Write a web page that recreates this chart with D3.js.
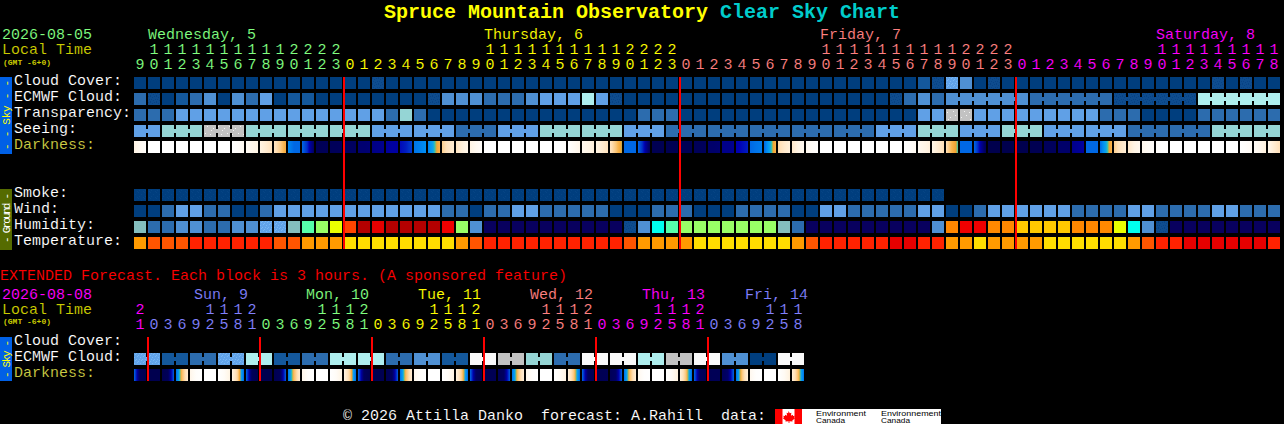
<!DOCTYPE html>
<html><head><meta charset="utf-8">
<script src="https://cdn.jsdelivr.net/npm/d3@7/dist/d3.min.js"></script>
<style>
html,body{margin:0;padding:0;background:#000;overflow:hidden}
svg{display:block}
text{font-family:"Liberation Mono",monospace;white-space:pre}
.thin{stroke:#000;stroke-width:.1px}
</style></head><body>
<svg id="c" width="1284" height="424"></svg>
<script>
// ---------- DATA ----------
const skyColors=["#003E7E","#14589C","#2C6CAE","#4F90D3","#60A0E6","#95D5D5","#AEEEEE","#C2C2C2","#F9F9F9","url(#s0)","url(#s4)","url(#sg)"];
const humidityColors=["#08005E","url(#s0)","#2C6CAE","#4F90D3","url(#s4)","#84BEBE","#00FFEE","#56FFAA","#99FF66","#EAFF00","#FFC800","#FF8800","#FF4400","#F00000","#E60000","#B40000"];
const temperatureColors=["#FF9A00","#FF5500","#FF2200","#E60000","#FFDD00"];
const smokeColors=["url(#s00)"];
const darkDomain=[0,1,2,3,3.6,3.8,4.1,5,6,7,7.5,8,9,10];
const darkRange=["#FFFFFF","#FFF4E4","#FFE0B8","#F9B44C","#F0A030","#50C890","#10A8E8","#0090F4","#0068E4","#0030C8","#0000B4","#000094","#000060","#000048"];

const mainHours=[9,10,11,12,13,14,15,16,17,18,19,20,21,22,23,
0,1,2,3,4,5,6,7,8,9,10,11,12,13,14,15,16,17,18,19,20,21,22,23,
0,1,2,3,4,5,6,7,8,9,10,11,12,13,14,15,16,17,18,19,20,21,22,23,
0,1,2,3,4,5,6,7,8,9,10,11,12,13,14,15,16,17,18];
const mainDayStarts=[0,15,39,63];
const mainDayNames=["Wednesday, 5","Thursday, 6","Friday, 7","Saturday, 8"];
const mainDayColors=["#80FF80","#FFFF00","#FF8080","#FF00FF"];
const mainDayLabelCols=[1,25,49,73];

const extHours=[21,0,3,6,9,12,15,18,21,0,3,6,9,12,15,18,21,0,3,6,9,12,15,18,21,0,3,6,9,12,15,18,21,0,3,6,9,12,15,18,21,0,3,6,9,12,15,18];
const extDayStarts=[0,1,9,17,25,33,41];
const extDayNames=["","Sun, 9","Mon, 10","Tue, 11","Wed, 12","Thu, 13","Fri, 14"];
const extDayColors=["#FF00FF","#8080FF","#80FF80","#FFFF00","#FF8080","#FF00FF","#8080FF"];
const extDayLabelX=[0,194,306,418,530,642,745];

const cloudCover=[0,0,0,0,0,0,0,0,0,0, 0,0,0,0,0,0,0,9,0,0, 0,0,0,0,0,0,0,0,0,0, 0,0,0,0,0,0,0,0,0,0, 0,0,0,0,0,0,0,0,0,0,
 0,0,0,0,0,0,1,9,10,3, 0,9,0,0,0,0,0,0,0,0, 0,0,0,0,0,0,0,9,0,9, 0,0];
const ecmwfCloud=[2,9,0,1,2,3,0,3,2,4, 0,1,1,0,0,0,0,0,0,0, 0,9,3,3,3,2,2,2,3,4, 4,4,6,4,9,0,0,0,0,0, 0,0,0,0,0,0,0,0,0,0,
 0,0,0,0,9,2,3,2,3,3, 3,3,3,3,2,2,2,2,2,2, 9,9,9,9,9,9,6,6,6,6, 6,6];
const ecmwfRuns=[1,1,1,1,1,1,1,1,1,1,1,1,1,1,1,1,1,1,1,1,1,1,1,1,1,1,1,1,1,1,1,1,1,1,1,1,1,1,1,1,1,1,1,1,1,1,1,1,1,1,1,1,1,1,1,1,1,1,6,6,6,6];
const transparency=[2,2,2,4,4,4,4,4,4,4, 4,4,4,4,4,4,4,4,2,5, 2,0,0,0,0,0,0,0,0,0, 0,0,0,0,0,0,2,2,2,0, 0,0,0,0,0,0,0,0,0,0,
 0,0,0,0,0,0,4,4,11,11, 4,4,4,4,4,4,4,4,4,2, 2,2,0,0,0,0,2,2,2,2, 2,2];
const seeing=[4,4, 5,5,5, 11,11,11, 5,5,5, 5,5,5, 5,5,5, 4,4,4, 4,4,4, 2,2,2, 4,4,4, 5,5,5, 5,5,5, 4,4,4, 2,2,2, 2,2,2, 2,2,2, 2,2,2, 2,2,2,
 4,4,4, 5,5,5, 4,4,4, 5,5,5, 4,4,4, 4,4,4, 2,2,2, 2,2,2, 5,5,5, 5,5];
const seeingRuns=[2,3,3,3,3,3,3,3,3,3,3,3,3,3,3,3,3,3,3,3,3,3,3,3,3,3,3,2];
const smoke=[0,0,0,0,0,0,0,0,0,0,0,0,0,0,0,0,0,0,0,0,0,0,0,0,0,0,0,0,0,0,0,0,0,0,0,0,0,0,0,0,0,0,0,0,0,0,0,0,0,0,0,0,0,0,0,0,0,0];
const wind=[0,0,2,4,4,2,2,0,0,2, 4,4,4,4,4,4,4,4,4,4, 4,4,2,2,0,2,2,4,4,2, 2,2,2,2,0,0,0,2,2,2, 0,0,0,2,2,2,2,0,0,4,
 4,2,2,2,2,2,4,4,0,0, 2,4,4,4,4,4,4,2,2,2, 2,4,4,2,2,2,2,4,4,2, 2,2];
const humidity=[5,2,2,3,3,2,2,3,3,4, 4,5,7,8,9,12,15,14,15,15, 15,15,13,8,3,0,0,0,0,0, 0,0,0,0,0,1,3,6,7,8, 8,8,8,8,8,8,5,2,0,0,
 0,0,0,0,0,0,0,3,11,13, 13,11,11,10,10,10,10,11,11,11, 9,6,3,1,0,0,0,0,0,0, 0,0];
const temperature=[0,1,1,1,2,2,2,2,2,2, 1,1,0,0,0,4,4,4,4,4, 4,4,4,0,1,2,2,2,2,2, 2,2,2,2,2,1,0,0,0,0, 4,4,4,4,4,4,4,0,1,2,
 2,2,2,2,3,3,2,2,0,0, 4,0,0,0,0,4,4,4,4,4, 4,0,1,2,2,3,3,3,3,3, 3,2];
const darkness=[[1,.5,.2],[0,0,0],[0,0,0],[0,0,0],[0,0,0],[0,0,0],[0,0,0],[0,.2,.5],[.4,.7,1],[1,1.4,1.9],
[1.8,2.4,3.3],[5.2,6,6],[6,7.2,9],[9.4,9.4,9.3],[9.3,9.3,9.2],[9,9,9],[8.7,8.7,8.6],[8.3,8.2,8.1],[7.9,7.8,7.8],[7.4,7.2,6.8],
[5.7,5.4,5],[5.4,4,3],[2.4,1.8,1.4],[1.8,1.2,.8],[1,.5,.2],[0,0,0],[0,0,0],[0,0,0],[0,0,0],[0,0,0],
[0,0,.2],[0,.4,.8],[.6,.9,1.2],[1,1.4,1.9],[1.8,2.6,3.7],[6,6,6],[6,7.4,9.2],[9.6,9.6,9.6],[9.6,9.6,9.6],[9.5,9.5,9.5],
[9.3,9.3,9.2],[8.8,8.8,8.7],[8.2,8.2,8.1],[7.6,7.4,7.2],[6,5.7,5.5],[6,4.2,3],[2.2,1.6,1.2],[1.6,1,.6],[.6,.3,.1],[0,0,0],
[0,0,0],[0,0,0],[0,0,0],[0,0,0],[0,0,0],[0,.2,.5],[.5,.9,1.2],[.9,1.4,2],[2,3,3.9],[6,6,6],
[6,7.6,9.4],[9.8,9.8,9.8],[9.8,9.8,9.8],[9.7,9.7,9.7],[9.6,9.6,9.6],[9.2,9.2,9.2],[8.8,8.8,8.8],[8.2,8,7.8],[6,6,6],[6,4.2,3],
[2.4,1.8,1.3],[1.6,1,.6],[.7,.4,.2],[.2,0,0],[0,0,0],[0,0,0],[0,0,0],[0,0,0],[0,0,0],[0,.2,.4],
[.3,.7,1.2],[.8,1.4,2]];
const extEcmwf=[10,10,1,1,2,2,10,10,6,6,1,1,2,2,6,6,6,6,2,2,3,3,1,1,8,8,7,7,5,5,2,2,8,8,8,8,6,6,7,7,8,8,3,3,0,0,8,8];
const extEcmwfRuns=[2,2,2,2,2,2,2,2,2,2,2,2,2,2,2,2,2,2,2,2,2,2,2,2];
const extDarkness=[[6,9.3,9.7],[9.7,9.7,9.7],[9.7,9.4,6.2],[5.8,2.8,1.4],[.8,.2,0],[0,0,0],[0,.3,1],[1,2.4,6],
[6,9.3,9.7],[9.7,9.7,9.7],[9.6,9.3,6.2],[5.8,2.8,1.4],[.8,.2,0],[0,0,0],[0,.3,1],[1,2.4,6],
[6,9.2,9.6],[9.6,9.6,9.6],[9.5,9.2,6.2],[5.8,2.8,1.4],[.7,.2,0],[0,0,0],[0,.3,1],[1.1,2.5,6],
[6,9.1,9.5],[9.5,9.5,9.5],[9.4,9,6.2],[5.8,2.7,1.3],[.7,.2,0],[0,0,0],[0,.4,1.1],[1.2,2.6,6],
[6,9.1,9.5],[9.5,9.5,9.4],[9.3,8.9,6.1],[5.8,2.7,1.3],[.6,.1,0],[0,0,0],[0,.4,1.2],[1.2,2.6,6],
[6,9.1,9.5],[9.5,9.4,9.4],[9.2,8.8,6.1],[5.8,2.6,1.2],[.6,.1,0],[0,0,0],[0,.4,1.2],[1.3,2.7,5.8]];
const mainLabels=["Cloud Cover:","ECMWF Cloud:","Transparency:","Seeing:","Darkness:"];
const groundLabels=["Smoke:","Wind:","Humidity:","Temperature:"];
const extLabels=["Cloud Cover:","ECMWF Cloud:","Darkness:"];

// ---------- SCALES ----------
const svg=d3.select("#c");
const xMain=d3.scaleBand().domain(d3.range(mainHours.length)).range([134,1280]).paddingInner(2/14).paddingOuter(0);
const xExt=d3.scaleBand().domain(d3.range(extHours.length)).range([134,804]).paddingInner(2/14).paddingOuter(0);
const skyScale=d3.scaleOrdinal(d3.range(skyColors.length),skyColors);
const humScale=d3.scaleOrdinal(d3.range(humidityColors.length),humidityColors);
const tmpScale=d3.scaleOrdinal(d3.range(temperatureColors.length),temperatureColors);
const smokeScale=d3.scaleOrdinal([0],smokeColors);
const darkScale=d3.scaleLinear().domain(darkDomain).range(darkRange).interpolate(d3.interpolateRgb);

// ---------- DEFS ----------
const defs=svg.append("defs");
function speckle(id,base,dot,pts,size){
  const p=defs.append("pattern").attr("id",id).attr("patternUnits","userSpaceOnUse").attr("width",size).attr("height",size);
  p.append("rect").attr("width",size).attr("height",size).attr("fill",base);
  pts.forEach(q=>p.append("rect").attr("x",q[0]).attr("y",q[1]).attr("width",1).attr("height",1).attr("fill",dot));
}
speckle("s00","#003E7E","#064484",[[0,0],[3,2],[1,4],[5,5]],6);
speckle("s0","#0E4C8E","#084284",[[0,0],[2,1],[4,0],[1,3],[3,4],[5,3],[0,5]],6);
speckle("s4","#62A4EA","#7AB8F4",[[0,1],[3,0],[5,2],[2,3],[4,5],[1,5]],6);
speckle("sg","#C2C2C2","#F2F2F2",[[1,2],[7,1],[4,7],[9,5],[2,9]],11);

function gradCell(id,v){
  const g=defs.append("linearGradient").attr("id",id).attr("x1",0).attr("x2",1).attr("y1",0).attr("y2",0);
  const t=d3.scaleLinear().domain([0,.5,1]).range(v);
  d3.range(13).forEach(k=>{const f=k/12;g.append("stop").attr("offset",f).attr("stop-color",darkScale(t(f)));});
}

// ---------- DRAW ----------
function row(x,y,values,scale,runs,name){
  const g=svg.append("g").attr("class",name);
  g.selectAll("rect.c").data(values).join("rect").attr("class","c")
    .attr("x",(d,i)=>x(i)).attr("y",y).attr("width",x.bandwidth()).attr("height",12)
    .attr("fill",d=>scale(d)).attr("shape-rendering","crispEdges");
  if(runs){
    let s=0;const links=[];
    runs.forEach(r=>{for(let k=0;k<r-1;k++)links.push(s+k);s+=r;});
    g.selectAll("rect.l").data(links).join("rect").attr("class","l")
      .attr("x",i=>x(i)+x.bandwidth()).attr("y",y+4).attr("width",x.step()-x.bandwidth()).attr("height",4)
      .attr("fill",i=>scale(values[i])).attr("shape-rendering","crispEdges");
  }
}
function darkRow(x,y,values,prefix){
  values.forEach((v,i)=>gradCell(prefix+i,v));
  svg.append("g").selectAll("rect").data(values).join("rect")
    .attr("x",(d,i)=>x(i)).attr("y",y).attr("width",x.bandwidth()).attr("height",12)
    .attr("fill",(d,i)=>`url(#${prefix}${i})`).attr("shape-rendering","crispEdges");
}
row(xMain,77,cloudCover,skyScale,null,"cloud");
row(xMain,93,ecmwfCloud,skyScale,ecmwfRuns,"ecmwf");
row(xMain,109,transparency,skyScale,null,"transp");
row(xMain,125,seeing,skyScale,seeingRuns,"seeing");
darkRow(xMain,141,darkness,"dm");
row(xMain,189,smoke,smokeScale,null,"smoke");
row(xMain,205,wind,skyScale,null,"wind");
row(xMain,221,humidity,humScale,null,"hum");
row(xMain,237,temperature,tmpScale,null,"temp");
row(xExt,353,extEcmwf,skyScale,extEcmwfRuns,"extecmwf");
darkRow(xExt,369,extDarkness,"de");

// day-start lines
svg.append("g").selectAll("rect").data(mainDayStarts.slice(1)).join("rect")
  .attr("x",c=>Math.round(xMain(c))-1).attr("y",77).attr("width",2).attr("height",172).attr("fill","#FF0000").attr("shape-rendering","crispEdges");
svg.append("g").selectAll("rect").data(extDayStarts.slice(1)).join("rect")
  .attr("x",c=>Math.round(xExt(c))-1).attr("y",337).attr("width",2).attr("height",44).attr("fill","#FF0000").attr("shape-rendering","crispEdges");

// hour axes
function hourAxis(x,hours,starts,colors,y,tens){
  const vals=tens?d3.range(hours.length).filter(i=>hours[i]>=10):d3.range(hours.length);
  const g=svg.append("g").attr("transform",`translate(0,${y})`)
    .call(d3.axisTop(x).tickValues(vals).tickSize(0).tickPadding(0).offset(0)
      .tickFormat(i=>tens?Math.floor(hours[i]/10):hours[i]%10));
  g.select(".domain").remove();
  g.attr("font-family",null).attr("font-size",null);
  g.selectAll("text").attr("class","thin").style("font-family",'"Liberation Mono",monospace').style("font-size","15px")
    .attr("dy",0).attr("fill",i=>colors[d3.bisectRight(starts,i)-1]);
}
hourAxis(xMain,mainHours,mainDayStarts,mainDayColors,54,true);
hourAxis(xMain,mainHours,mainDayStarts,mainDayColors,69,false);
hourAxis(xExt,extHours,extDayStarts,extDayColors,314,true);
hourAxis(xExt,extHours,extDayStarts,extDayColors,329,false);

// text
function T(x,y,s,fill,size,opt){
  const t=svg.append("text").attr("x",x).attr("y",y).attr("fill",fill).attr("font-size",size||15).text(s);
  if(opt&&opt.bold)t.attr("font-weight","bold");
  if(opt&&opt.len)t.attr("textLength",opt.len).attr("lengthAdjust","spacingAndGlyphs");
  if(!opt)t.attr("class","thin");
  return t;
}
T(384,18,"Spruce Mountain Observatory","#FFFF00",20,{bold:1});
T(720,18,"Clear Sky Chart","#00CCCC",20,{bold:1});
T(2,39,"2026-08-05","#80FF80");
T(2,54,"Local Time","#CCCC00");
T(3,65,"(GMT -6+0)","#CCCC00",8,{bold:1,len:48});
mainDayNames.forEach((n,i)=>T(xMain(mainDayLabelCols[i]),39,n,mainDayColors[i]));
mainLabels.forEach((n,i)=>T(14,85+16*i,n,i==4?"#CCCC44":"#FFFFFF"));
groundLabels.forEach((n,i)=>T(14,197+16*i,n,"#FFFFFF"));
T(0,280,"EXTENDED Forecast. Each block is 3 hours. (A sponsored feature)","#FF0000");
T(2,299,"2026-08-08","#FF00FF");
T(2,314,"Local Time","#CCCC00");
T(3,324,"(GMT -6+0)","#CCCC00",8,{bold:1,len:48});
extDayNames.forEach((n,i)=>{if(n)T(extDayLabelX[i],299,n,extDayColors[i]);});
extLabels.forEach((n,i)=>T(14,345+16*i,n,i==2?"#CCCC44":"#FFFFFF"));
T(343,420,"\u00A9 2026 Attilla Danko  forecast: A.Rahill  data:","#FFFFFF");

// side bars
function side(y,h,color,textColor,label,len,cy){
  svg.append("rect").attr("x",0).attr("y",y).attr("width",12).attr("height",h).attr("fill",color);
  svg.append("text").attr("transform",`translate(9.5,${cy}) rotate(-90)`).attr("text-anchor","middle")
    .attr("font-size",11).attr("fill",textColor).attr("textLength",len).attr("lengthAdjust","spacing").text(label);
}
side(77,77,"#0060E6","#FFFF00","- - Sky - -",70,115);
side(189,61,"#556B00","#FFFFFF","- Ground -",50,218);
side(337,44,"#0060E6","#FFFF00","- Sky -",38,359);

// logo
const logo=svg.append("g");
logo.append("rect").attr("x",775).attr("y",409).attr("width",166).attr("height",15).attr("fill","#FFFFFF");
logo.append("rect").attr("x",775).attr("y",409).attr("width",7.5).attr("height",15).attr("fill","#FF0000");
logo.append("rect").attr("x",794.5).attr("y",409).attr("width",7.5).attr("height",15).attr("fill","#FF0000");
logo.append("path").attr("d","M788.5 411l1.3 2.3 1.6-.6-.5 3 1.8-1 .4 1.4 1.6-.3-.5 1.8.9.6-2.8 2.2.3 1.2-3.2-.4v1.8h-.8v-1.8l-3.2.4.3-1.2-2.8-2.2.9-.6-.5-1.8 1.6.3.4-1.4 1.8 1-.5-3 1.6.6z").attr("fill","#FF0000");
[[816,"Environment",50],[881,"Environnement",60]].forEach(d=>{
  logo.append("text").attr("x",d[0]).attr("y",416).attr("font-size",8).attr("fill","#000").attr("textLength",d[2]).attr("lengthAdjust","spacingAndGlyphs").style("font-family",'"Liberation Sans",sans-serif').text(d[1]);
  logo.append("text").attr("x",d[0]).attr("y",423).attr("font-size",8).attr("fill","#000").attr("textLength",29).attr("lengthAdjust","spacingAndGlyphs").style("font-family",'"Liberation Sans",sans-serif').text("Canada");
});
</script></body></html>
